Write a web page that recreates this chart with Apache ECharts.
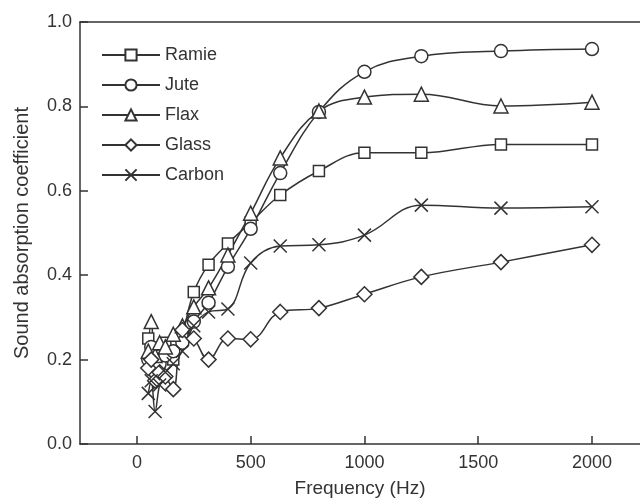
<!DOCTYPE html>
<html>
<head>
<meta charset="utf-8">
<script src="https://cdn.jsdelivr.net/npm/echarts@6/dist/echarts.min.js"></script>
<style>html,body{margin:0;padding:0;background:#fff}#c{width:640px;height:499px}</style>
</head>
<body>
<div id="c"></div>
<script>
var freq = [50, 63, 80, 100, 125, 160, 200, 250, 315, 400, 500, 630, 800, 1000, 1250, 1600, 2000];
var ramie = [0.25, 0.22, 0.19, 0.21, 0.24, 0.20, 0.26, 0.36, 0.425, 0.475, 0.525, 0.59, 0.647, 0.69, 0.69, 0.71, 0.71];
var jute = [0.20, 0.23, 0.17, 0.19, 0.21, 0.22, 0.24, 0.29, 0.335, 0.42, 0.51, 0.642, 0.787, 0.882, 0.919, 0.931, 0.936];
var flax = [0.22, 0.29, 0.21, 0.24, 0.23, 0.26, 0.28, 0.325, 0.37, 0.448, 0.547, 0.678, 0.789, 0.822, 0.829, 0.801, 0.810];
var glass = [0.18, 0.20, 0.15, 0.17, 0.16, 0.13, 0.27, 0.25, 0.20, 0.25, 0.248, 0.313, 0.322, 0.355, 0.396, 0.431, 0.472];
var carbon = [0.12, 0.15, 0.077, 0.14, 0.17, 0.19, 0.22, 0.28, 0.313, 0.32, 0.429, 0.469, 0.472, 0.495, 0.566, 0.559, 0.562];
var xTicks = [0, 500, 1000, 1500, 2000];

var INK = '#333';
var FONT = 'Liberation Sans';
function pairs(arr){ return freq.map(function(f,i){ return [f, arr[i]]; }); }
function mk(name, arr, symbol, size){
  return {
    name: name, type: 'line', data: pairs(arr), smooth: 0.4,
    symbol: symbol, symbolSize: size,
    lineStyle: {color: INK, width: 1.5},
    itemStyle: {color: '#fff', borderColor: INK, borderWidth: 1.5},
    emphasis: {disabled: true}
  };
}
var xPath = 'path://M0,0L10,10M10,0L0,10';
var XMIN = -250, XMAX = 2211;
var chart = echarts.init(document.getElementById('c'), null, {renderer: 'canvas'});
chart.setOption({
  animation: false,
  backgroundColor: '#fff',
  textStyle: {fontFamily: FONT},
  grid: {left: 80, top: 22, right: 0, bottom: 55, show: false, containLabel: false, outerBoundsMode: 'none'},
  legend: {
    orient: 'vertical', left: 96, top: 41,
    itemWidth: 58, itemHeight: 14, itemGap: 12,
    textStyle: {fontFamily: FONT, fontSize: 18, color: INK},
    data: ['Ramie', 'Jute', 'Flax', 'Glass', 'Carbon']
  },
  xAxis: [{
    type: 'value', min: XMIN, max: XMAX,
    name: 'Frequency (Hz)', nameLocation: 'middle', nameGap: 35,
    nameTextStyle: {fontFamily: FONT, fontSize: 19, color: INK},
    axisLine: {show: true, onZero: false, lineStyle: {color: INK, width: 1.5}},
    axisTick: {show: true, inside: true, length: 8, lineStyle: {color: INK, width: 1.5}, customValues: xTicks},
    axisLabel: {fontFamily: FONT, fontSize: 18, color: INK, margin: 10, customValues: xTicks, formatter: function(v){ return String(v); }},
    splitLine: {show: false}
  }, {
    type: 'value', position: 'top', min: XMIN, max: XMAX,
    axisLine: {show: true, onZero: false, lineStyle: {color: INK, width: 1.5}},
    axisTick: {show: false}, axisLabel: {show: false}, splitLine: {show: false}
  }],
  yAxis: {
    type: 'value', min: 0, max: 1, interval: 0.2,
    name: 'Sound absorption coefficient', nameLocation: 'middle', nameGap: 48,
    nameTextStyle: {fontFamily: FONT, fontSize: 20, color: INK},
    axisLine: {show: true, onZero: false, lineStyle: {color: INK, width: 1.5}},
    axisTick: {show: true, inside: true, length: 8, lineStyle: {color: INK, width: 1.5}},
    axisLabel: {fontFamily: FONT, fontSize: 18, color: INK, margin: 8, formatter: function(v){ return v.toFixed(1); }},
    splitLine: {show: false}
  },
  series: [
    mk('Ramie', ramie, 'rect', 11),
    mk('Jute', jute, 'circle', 13),
    mk('Flax', flax, 'triangle', 14),
    mk('Glass', glass, 'diamond', 15),
    mk('Carbon', carbon, xPath, 13)
  ]
});
</script>
</body>
</html>
